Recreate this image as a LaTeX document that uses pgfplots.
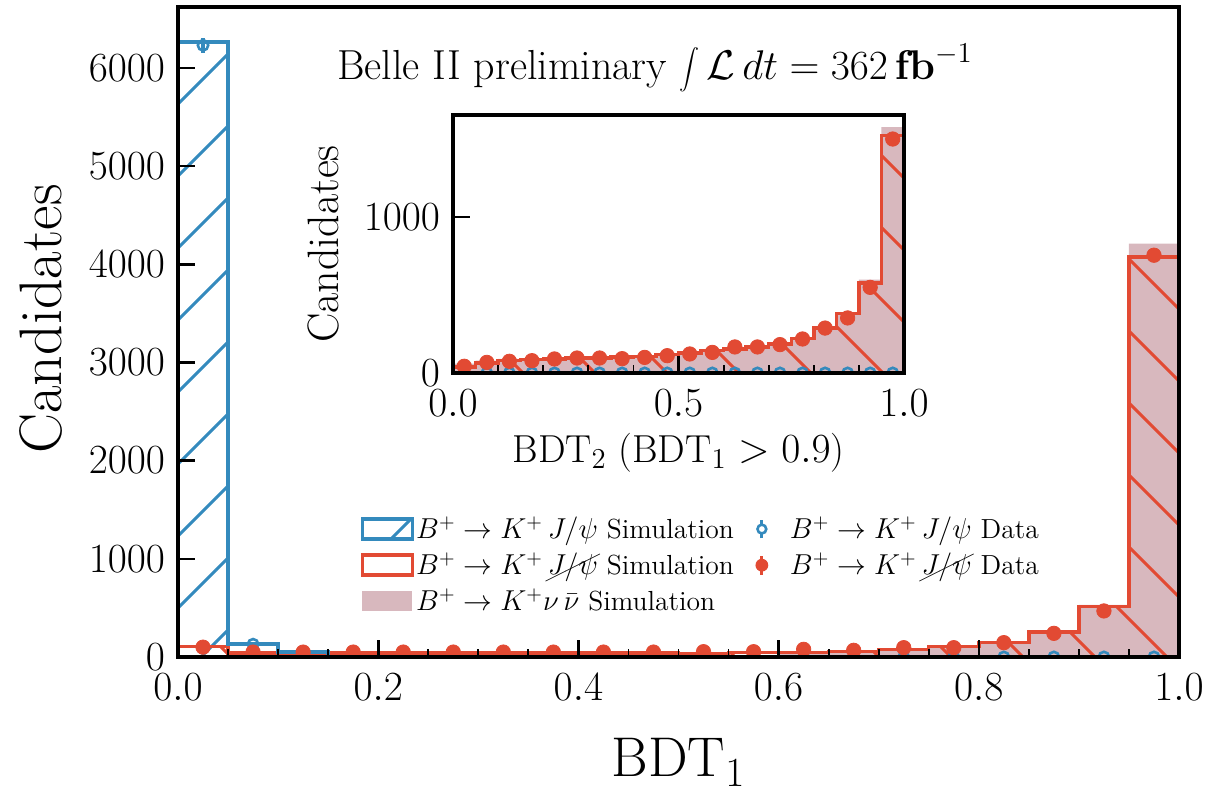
\documentclass[border=0pt]{standalone}
\usepackage{pgfplots}
\pgfplotsset{compat=1.18}
\usepackage{pgfplotstable}
\usepackage{cancel}
\usetikzlibrary{patterns}

\definecolor{cblue}{HTML}{348ABD}
\definecolor{cred}{HTML}{E24A33}
\definecolor{cpink}{RGB}{216,184,190}

\pgfdeclarepatternformonly{bigNE}{\pgfqpoint{-1pt}{-1pt}}{\pgfqpoint{37pt}{37pt}}{\pgfqpoint{36pt}{36pt}}{%
  \pgfsetlinewidth{1.5pt}%
  \pgfpathmoveto{\pgfqpoint{0pt}{0pt}}%
  \pgfpathlineto{\pgfqpoint{36.1pt}{36.1pt}}%
  \pgfusepath{stroke}%
}
\pgfdeclarepatternformonly{bigNW}{\pgfqpoint{-1pt}{-1pt}}{\pgfqpoint{37pt}{37pt}}{\pgfqpoint{36pt}{36pt}}{%
  \pgfsetlinewidth{1.5pt}%
  \pgfpathmoveto{\pgfqpoint{0pt}{36pt}}%
  \pgfpathlineto{\pgfqpoint{36.1pt}{-0.1pt}}%
  \pgfusepath{stroke}%
}

% main histogram: left bin edges
\pgfplotstableread{
x red pink
0 0 0
0 105 5
0.05 40 5
0.10 40 5
0.15 40 5
0.20 40 5
0.25 40 5
0.30 40 5
0.35 40 5
0.40 40 5
0.45 40 5
0.50 34 10
0.55 44 15
0.60 48 30
0.65 54 45
0.70 78 70
0.75 105 100
0.80 146 150
0.85 255 260
0.90 514 530
0.95 4075 4211
1.00 4075 4211
1.00 0 0
}\mainsim

\pgfplotstableread{
x blue
0 0
0 6265
0.05 133
0.10 50
0.15 50
0.15 0
}\mainblue

\pgfplotstableread{
x b be r re
0.025 6230 79 100 10
0.075 130 11.4 50 7.1
0.125 50 7.1 50 7.1
0.175 0 0 50 7.1
0.225 0 0 50 7.1
0.275 0 0 50 7.1
0.325 0 0 50 7.1
0.375 0 0 50 7.1
0.425 0 0 50 7.1
0.475 0 0 50 7.1
0.525 0 0 54 7.3
0.575 0 0 54 7.3
0.625 0 0 78 8.8
0.675 0 0 68 8.2
0.725 0 0 95 9.7
0.775 0 0 95 9.7
0.825 0 0 146 12.1
0.875 0 0 241 15.5
0.925 0 0 469 21.7
0.975 0 0 4092 64
}\maindata

% inset histogram
\pgfplotstableread{
x blue red pink
0 0 0 0
0 0 38 60
0.05 0 64 80
0.10 0 81 90
0.15 0 85 95
0.20 0 90 100
0.25 0 96 105
0.30 0 96 105
0.35 0 103 110
0.40 0 107 115
0.45 0 118 125
0.50 0 128 135
0.55 0 145 150
0.60 0 154 160
0.65 0 167 175
0.70 0 186 195
0.75 0 222 230
0.80 0 288 295
0.85 0 380 390
0.90 0 577 598
0.95 0 1521 1577
1.00 0 1521 1577
1.00 0 0 0
}\insetsim

\pgfplotstableread{
x b be r re
0.025 0 0 43 6.6
0.075 0 0 68 8.2
0.125 0 0 75 8.7
0.175 0 0 79 8.9
0.225 0 0 90 9.5
0.275 0 0 96 9.8
0.325 0 0 96 9.8
0.375 0 0 92 9.6
0.425 0 0 100 10
0.475 0 0 111 10.5
0.525 0 0 122 11
0.575 0 0 132 11.5
0.625 0 0 167 12.9
0.675 0 0 167 12.9
0.725 0 0 182 13.5
0.775 0 0 218 14.8
0.825 0 0 288 17
0.875 0 0 353 18.8
0.925 0 0 549 23.4
0.975 0 0 1500 38.7
}\insetdata

\tikzset{
  hatchred/.style={pattern=bigNW, pattern color=cred},
  hatchblue/.style={pattern=bigNE, pattern color=cblue},
}

\pgfplotsset{
  mystyle/.style={
    scale only axis,
    axis on top,
    clip marker paths=true,
    axis line style={line width=2pt, black},
    tick align=inside, xtick pos=bottom, ytick pos=left,
    major tick length=8.5pt, minor tick length=3.8pt,
    every tick/.style={black, line width=1.3pt},
    minor tick style={line width=0.9pt},
    scaled ticks=false,
    tick label style={font=\fontsize{21}{25}\selectfont},
    xticklabel style={/pgf/number format/fixed, /pgf/number format/precision=1, /pgf/number format/fixed zerofill, yshift=-5pt},
    yticklabel style={/pgf/number format/1000 sep={}, xshift=-3pt},
  },
  sim/.style={const plot, line width=1.7pt},
  bluedata/.style={only marks, mark=o, mark size=2.6pt, cblue, line width=1.3pt, mark options={fill=white, solid},
    error bars/y dir=both, error bars/y explicit, error bars/error mark=none,
    error bars/error bar style={line width=1.6pt, cblue}},
  reddata/.style={only marks, mark=*, mark size=3.6pt, cred, mark options={fill=cred, draw=cred},
    error bars/y dir=both, error bars/y explicit, error bars/error mark=none,
    error bars/error bar style={line width=1.6pt, cred}},
}

\begin{document}
\begin{tikzpicture}
\path[use as bounding box] (-89pt,-64.5pt) rectangle (526pt,328.5pt);
\begin{axis}[
  mystyle,
  at={(0pt,0pt)}, anchor=south west,
  width=500.5pt, height=325pt,
  xmin=0, xmax=1, ymin=0, ymax=6620,
  xtick={0,0.2,0.4,0.6,0.8,1.0}, minor x tick num=3,
  ytick={0,1000,2000,3000,4000,5000,6000},
  xlabel={BDT$_1$}, ylabel={Candidates},
  xlabel style={font=\fontsize{28}{33}\selectfont, at={(axis description cs:0.5,-0.184)}, anchor=base},
  ylabel style={font=\fontsize{30}{35}\selectfont, at={(axis description cs:-0.137,0.52)}, anchor=center},
  legend columns=2,
  legend cell align=left,
  legend style={at={(axis description cs:0.176,0.226)}, anchor=north west, draw=none, fill=none,
    font=\fontsize{13.8}{16}\selectfont, row sep=3.5pt, nodes={inner sep=1pt}},
]
% legend-only entries (points outside the visible range)
\addplot[draw=none, legend image code/.code={\draw[cblue, line width=1.8pt, hatchblue] (0pt,-5pt) rectangle (25pt,5pt);}] coordinates {(2,-1000)};
\addlegendentry{$B^+\rightarrow K^+\,J/\psi$ Simulation}
\addplot[draw=none, legend image code/.code={\path (0pt,-5pt) rectangle (26pt,5pt); \draw[cblue, line width=1.6pt] (13pt,-4.7pt) -- (13pt,4.7pt); \draw[cblue, line width=1.3pt, fill=white] (13pt,0pt) circle (2.2pt);}] coordinates {(2,-1000)};
\addlegendentry{$B^+\rightarrow K^+\,J/\psi$ Data}
\addplot[draw=none, legend image code/.code={\draw[cred, line width=1.8pt] (0pt,-5pt) rectangle (25pt,5pt);}] coordinates {(2,-1000)};
\addlegendentry{$B^+\rightarrow K^+\,\cancel{J/\psi}$ Simulation}
\addplot[draw=none, legend image code/.code={\path (0pt,-5pt) rectangle (26pt,5pt); \draw[cred, line width=1.6pt] (13pt,-4.7pt) -- (13pt,4.7pt); \fill[cred] (13pt,0pt) circle (3.2pt);}] coordinates {(2,-1000)};
\addlegendentry{$B^+\rightarrow K^+\,\cancel{J/\psi}$ Data}
\addplot[draw=none, legend image code/.code={\fill[cpink] (0pt,-5pt) rectangle (25pt,5pt);}] coordinates {(2,-1000)};
\addlegendentry{$B^+\rightarrow K^+\nu\,\bar{\nu}$ Simulation}

\addplot[const plot, draw=none, fill=cpink, forget plot] table[x=x,y=pink] {\mainsim} \closedcycle;
\addplot[const plot, draw=none, hatchred, forget plot] table[x=x,y=red] {\mainsim} \closedcycle;
\addplot[const plot, draw=none, hatchblue, forget plot] table[x=x,y=blue] {\mainblue} \closedcycle;
\addplot[sim, cred, forget plot] table[x=x,y=red] {\mainsim};
\addplot[sim, cblue, forget plot] table[x=x,y=blue] {\mainblue};
\addplot[forget plot, bluedata] table[x=x,y=b,y error=be] {\maindata};
\addplot[forget plot, reddata] table[x=x,y=r,y error=re] {\maindata};

\node[anchor=base, font=\fontsize{21}{25}\selectfont] at (axis description cs:0.4765,0.8877)
  {Belle II preliminary $\displaystyle\int\mathcal{L}\,dt = 362\,\mathbf{fb}^{-1}$};
\end{axis}

\begin{axis}[
  mystyle,
  at={(137.5pt,142pt)}, anchor=south west,
  width=225.5pt, height=129pt,
  axis background/.style={fill=white},
  xmin=0, xmax=1, ymin=0, ymax=1654,
  xtick={0,0.5,1.0}, minor x tick num=4,
  ytick={0,1000},
  xlabel={BDT$_2$ (BDT$_1>0.9$)}, ylabel={Candidates},
  xlabel style={font=\fontsize{19.5}{23}\selectfont, at={(axis description cs:0.5,-0.345)}, anchor=base},
  ylabel style={font=\fontsize{22}{26}\selectfont, at={(axis description cs:-0.288,0.5)}, anchor=center},
]
\addplot[const plot, draw=none, fill=cpink, forget plot] table[x=x,y=pink] {\insetsim} \closedcycle;
\addplot[const plot, draw=none, hatchred, forget plot] table[x=x,y=red] {\insetsim} \closedcycle;
\addplot[sim, cred, forget plot] table[x=x,y=red] {\insetsim};
\addplot[sim, cblue, forget plot] table[x=x,y=blue] {\insetsim};
\addplot[forget plot, bluedata] table[x=x,y=b,y error=be] {\insetdata};
\addplot[forget plot, reddata] table[x=x,y=r,y error=re] {\insetdata};
\end{axis}
\end{tikzpicture}
\end{document}
